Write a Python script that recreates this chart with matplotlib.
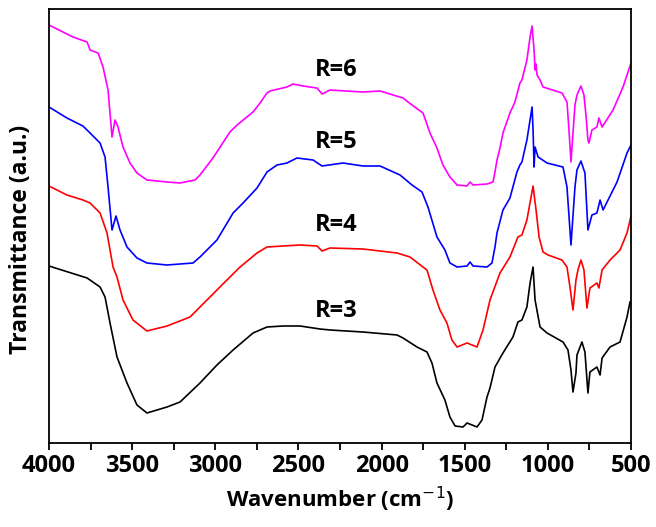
import matplotlib
matplotlib.use("Agg")
from matplotlib import pyplot as plt
from matplotlib.ticker import MultipleLocator

plt.rcParams['font.family'] = ['Open Sans', 'DejaVu Sans']

# wavenumber (cm-1) / transmittance (a.u.)
wn_r6 = [4000, 3916, 3856, 3771, 3753, 3705, 3675, 3645, 3621, 3603, 3585, 3555,
         3513, 3471, 3411, 3290, 3212, 3122, 3092, 3014, 2912, 2869, 2773, 2731,
         2689, 2671, 2569, 2533, 2472, 2388, 2358, 2310, 2112, 2009, 1871, 1817,
         1751, 1709, 1667, 1631, 1589, 1546, 1486, 1468, 1450, 1366, 1330, 1318,
         1306, 1288, 1270, 1228, 1198, 1168, 1156, 1126, 1107, 1095, 1083, 1077,
         1071, 1065, 1047, 1029, 915, 885, 873, 861, 849, 837, 825, 801, 783, 771,
         759, 753, 735, 705, 693, 674, 608, 548, 500]
t_r6 = [418, 411, 406, 401, 393, 390, 376, 353, 306, 323, 316, 296,
        280, 270, 263, 261, 260, 263, 268, 285, 311, 318, 331, 340,
        350, 352, 356, 359, 357, 355, 349, 353, 351, 352, 345, 338,
        330, 310, 295, 278, 266, 258, 257, 261, 258, 259, 261, 271,
        283, 295, 310, 330, 341, 360, 363, 383, 406, 417, 393, 373,
        379, 368, 363, 356, 350, 341, 313, 281, 310, 338, 348, 357, 348, 328,
        303, 300, 313, 316, 325, 316, 333, 356, 380]

wn_r5 = [4000, 3892, 3796, 3753, 3693, 3663, 3645, 3621, 3597, 3573, 3531, 3471,
         3411, 3290, 3134, 3092, 2990, 2893, 2833, 2749, 2689, 2629, 2569, 2509,
         2412, 2358, 2232, 2112, 2009, 1889, 1817, 1757, 1721, 1667, 1619, 1589,
         1546, 1486, 1468, 1450, 1366, 1336, 1318, 1306, 1270, 1228, 1186, 1168,
         1156, 1126, 1095, 1089, 1083, 1077, 1059, 1005, 909, 885, 861, 837, 825,
         801, 777, 759, 735, 705, 686, 668, 584, 524, 500]
t_r5 = [336, 325, 317, 310, 300, 286, 256, 213, 227, 213, 196, 185,
        180, 178, 180, 186, 203, 230, 240, 255, 271, 278, 280, 285,
        283, 277, 280, 277, 277, 268, 258, 251, 236, 206, 193, 180,
        176, 177, 181, 177, 176, 180, 196, 210, 233, 245, 271, 278,
        281, 303, 336, 313, 276, 296, 286, 280, 276, 256, 198, 256, 273,
        282, 270, 213, 228, 230, 243, 233, 261, 290, 298]

wn_r4 = [4000, 3892, 3796, 3753, 3693, 3651, 3633, 3615, 3591, 3555, 3495, 3411,
         3290, 3152, 3050, 2930, 2851, 2749, 2689, 2593, 2491, 2388, 2358, 2310,
         2112, 1907, 1829, 1751, 1727, 1691, 1649, 1607, 1577, 1546, 1486, 1426,
         1390, 1348, 1288, 1228, 1180, 1156, 1126, 1101, 1089, 1071, 1053, 1029,
         999, 915, 885, 867, 849, 831, 819, 801, 783, 765, 747, 705, 693, 674,
         626, 566, 524, 500]
t_r4 = [257, 248, 243, 240, 230, 210, 193, 176, 166, 143, 123, 112,
        117, 126, 143, 163, 176, 190, 196, 197, 198, 197, 192, 195,
        194, 190, 186, 176, 173, 153, 133, 120, 103, 96, 100, 96,
        113, 143, 170, 186, 206, 208, 223, 246, 257, 233, 206, 191,
        188, 183, 176, 156, 133, 163, 173, 183, 173, 135, 155, 160, 155, 173,
        183, 193, 210, 227]

wn_r3 = [4000, 3771, 3693, 3663, 3633, 3591, 3531, 3471, 3411, 3290, 3212, 3092,
         2990, 2893, 2773, 2689, 2593, 2491, 2370, 2310, 2112, 1907, 1871, 1787,
         1727, 1697, 1667, 1619, 1589, 1558, 1510, 1486, 1426, 1396, 1366, 1348,
         1318, 1270, 1210, 1180, 1156, 1126, 1107, 1089, 1077, 1047, 1005, 909,
         879, 861, 849, 831, 825, 795, 777, 759, 747, 705, 686, 674, 626, 566,
         524, 506]
t_r3 = [177, 165, 156, 146, 120, 86, 60, 38, 30, 36, 41, 60,
        78, 93, 110, 116, 117, 117, 114, 113, 111, 108, 105, 96,
        91, 80, 60, 43, 26, 17, 16, 20, 16, 23, 46, 55,
        76, 90, 106, 121, 123, 136, 160, 176, 143, 116, 110, 101,
        93, 73, 51, 70, 88, 101, 91, 50, 71, 76, 68, 85, 96, 101,
        126, 141]

labels = ['R=3', 'R=4', 'R=5', 'R=6']
label_wn = [2270, 2270, 2270, 2270]
label_t = [132, 218, 301, 373]

fig = plt.figure(figsize=(6.56, 5.27), dpi=100)
ax = fig.add_axes([0.0747, 0.1594, 0.8872, 0.8235])

ax.plot(wn_r3, t_r3, color='black', lw=1.2)
ax.plot(wn_r4, t_r4, color='#ff0000', lw=1.2)
ax.plot(wn_r5, t_r5, color='#0000ff', lw=1.2)
ax.plot(wn_r6, t_r6, color='#ff00ff', lw=1.2)

for lab, x, y in zip(labels, label_wn, label_t):
    ax.text(x, y, lab, fontsize=17, fontweight='bold', ha='center', va='center')

ax.set_xlim(4000, 500)
ax.set_ylim(0, 434)
ax.xaxis.set_major_locator(MultipleLocator(500))
ax.xaxis.set_minor_locator(MultipleLocator(250))
ax.tick_params(axis='x', which='both', direction='out', length=5, width=1.3,
               labelsize=17, pad=3)
ax.tick_params(axis='y', left=False, labelleft=False)
for lbl in ax.get_xticklabels():
    lbl.set_fontweight('bold')
for s in ax.spines.values():
    s.set_linewidth(1.3)

ax.set_xlabel('Wavenumber (cm$^{-1}$)', fontsize=16, fontweight='bold',
              labelpad=5)
ax.set_ylabel('Transmittance (a.u.)', fontsize=16.5, fontweight='bold')
ax.yaxis.set_label_coords(-0.027, 0.468)

fig.savefig('out.png', dpi=100)
